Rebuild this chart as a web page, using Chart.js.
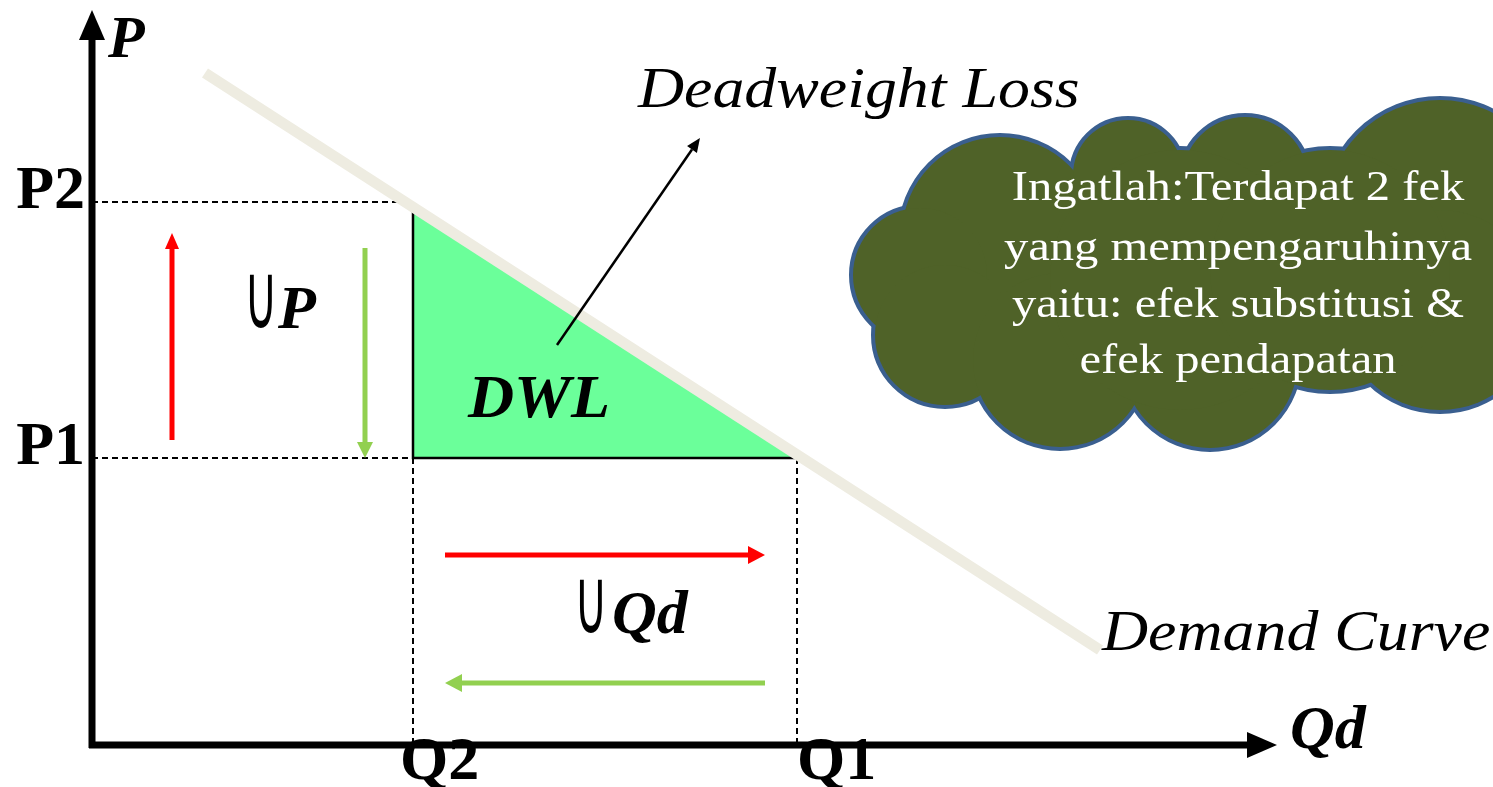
<!DOCTYPE html>
<html>
<head>
<meta charset="utf-8">
<script src="https://cdn.jsdelivr.net/npm/chart.js@4.4.1/dist/chart.umd.min.js"></script>
<style>
  html, body { margin: 0; padding: 0; background: #fff; overflow: hidden; }
  canvas { display: block; }
</style>
</head>
<body>
<canvas id="chart" width="1493" height="787"></canvas>
<script>
// equilibrium values (price / quantity units)
const priceLabels = ["P2", "P1"];
const priceValues = [5.43, 2.87];
const qtyLabels = ["Q2", "Q1"];
const qtyValues = [3.21, 7.05];
const [P2, P1] = priceValues;
const [Q2, Q1] = qtyValues;

// demand curve end points
const demandQ = [1.13, 10.08];
const demandP = [6.72, 0.95];

// axes (shaft ends, arrow head added on top)
const yAxisLine = [{ x: 0, y: -0.03 }, { x: 0, y: 7.05 }];
const xAxisLine = [{ x: -0.03, y: 0 }, { x: 11.55, y: 0 }];

// movement arrows
const priceUp = [{ x: 0.80, y: 3.05 }, { x: 0.80, y: 4.96 }];
const priceDown = [{ x: 2.73, y: 4.97 }, { x: 2.73, y: 3.03 }];
const qtyRight = [{ x: 3.53, y: 1.90 }, { x: 6.56, y: 1.90 }];
const qtyLeft = [{ x: 6.73, y: 0.62 }, { x: 3.70, y: 0.62 }];
const dwlPointer = [{ x: 4.65, y: 4.00 }, { x: 6.00, y: 5.955 }];

// cloud lobes [x, y, r]
const cloudLobes = [
  [9.08, 5.10, 0.98], [10.36, 5.70, 0.55], [11.53, 5.65, 0.63], [13.48, 5.30, 1.15],
  [8.28, 4.70, 0.67], [8.53, 4.10, 0.70], [9.68, 3.85, 0.87], [11.18, 3.85, 0.88],
  [13.48, 4.35, 1.00], [10.88, 4.65, 1.30], [12.38, 4.75, 1.20]
];
const cloudText = ["Ingatlah:Terdapat 2 fek", "yang mempengaruhinya", "yaitu: efek substitusi &", "efek pendapatan"];
const cloudY = [5.45, 4.85, 4.28, 3.72];

const serif = '"Liberation Serif", "Times New Roman", serif';
const texts = [
  { t: "P", x: 0.16, y: 6.88, font: "italic bold 60px " + serif },
  { t: priceLabels[0], x: -0.07, y: P2 - 0.06, font: "bold 62px " + serif, align: "right" },
  { t: priceLabels[1], x: -0.07, y: P1 - 0.06, font: "bold 62px " + serif, align: "right" },
  { t: qtyLabels[0], x: Q2 - 0.13, y: -0.34, font: "bold 62px " + serif },
  { t: qtyLabels[1], x: Q1, y: -0.34, font: "bold 62px " + serif },
  { t: "Qd", x: 11.98, y: -0.03, font: "italic bold 62px " + serif },
  { t: "Deadweight Loss", x: 5.46, y: 6.38, font: "italic 56px " + serif, sx: 1.14 },
  { t: "Demand Curve", x: 10.10, y: 0.95, font: "italic 56px " + serif, sx: 1.14 },
  { t: "DWL", x: 3.76, y: 3.28, font: "italic bold 62px " + serif, sx: 1.03 },
  { t: "\u222A", x: 1.52, y: 4.17, font: "46px 'DejaVu Sans'", sy: 2 },
  { t: "P", x: 1.86, y: 4.17, font: "italic bold 62px " + serif },
  { t: "\u222A", x: 4.82, y: 1.12, font: "46px 'DejaVu Sans'", sy: 2 },
  { t: "Qd", x: 5.20, y: 1.12, font: "italic bold 62px " + serif }
];

function seg(data, color, width, extra) {
  return Object.assign({
    data: data, showLine: true, borderColor: color, backgroundColor: color,
    borderWidth: width, pointRadius: 0, fill: false, borderCapStyle: "butt"
  }, extra || {});
}
const dash = { borderDash: [6, 4] };

const datasets = [
  // dashed guides
  seg([{ x: 0, y: P2 }, { x: Q2, y: P2 }], "#000", 2, Object.assign({ order: 9 }, dash)),
  seg([{ x: 0, y: P1 }, { x: Q2, y: P1 }], "#000", 2, Object.assign({ order: 9 }, dash)),
  seg([{ x: Q2, y: P1 }, { x: Q2, y: 0 }], "#000", 2, Object.assign({ order: 9 }, dash)),
  seg([{ x: Q1, y: P1 }, { x: Q1, y: 0 }], "#000", 2, Object.assign({ order: 9 }, dash)),
  // DWL triangle
  seg([{ x: Q2, y: P2 }, { x: Q1, y: P1 }], "rgba(0,0,0,0)", 0,
      { fill: { value: P1 }, backgroundColor: "#6bff9a", order: 8 }),
  seg([{ x: Q2, y: P2 }, { x: Q2, y: P1 }, { x: Q1, y: P1 }], "#000", 2.5, { order: 7 }),
  // demand curve
  seg([{ x: demandQ[0], y: demandP[0] }, { x: demandQ[1], y: demandP[1] }], "#eeece1", 11, { order: 6 }),
  // axes & arrows
  seg(yAxisLine, "#000", 7, { order: 1, arrow: [30, 13] }),
  seg(xAxisLine, "#000", 7, { order: 1, arrow: [30, 13] }),
  seg(priceUp, "#ff0000", 5, { order: 2, arrow: [16, 7] }),
  seg(priceDown, "#92d050", 5, { order: 2, arrow: [16, 8] }),
  seg(qtyRight, "#ff0000", 5, { order: 2, arrow: [17, 9] }),
  seg(qtyLeft, "#92d050", 5, { order: 2, arrow: [17, 9] }),
  seg(dwlPointer, "#000", 2.5, { order: 2, arrow: [14, 6] })
];

function drawText(ctx, t, px, py, sx, sy) {
  ctx.save();
  ctx.translate(px, py);
  ctx.scale(sx || 1, sy || 1);
  ctx.fillText(t, 0, 0);
  ctx.restore();
}

const annotate = {
  id: "annotate",
  afterDatasetsDraw(chart) {
    const ctx = chart.ctx;
    chart.data.datasets.forEach((ds, i) => {
      if (!ds.arrow) return;
      const pts = chart.getDatasetMeta(i).data;
      const a = pts[pts.length - 2], b = pts[pts.length - 1];
      const ang = Math.atan2(b.y - a.y, b.x - a.x);
      const [len, hw] = ds.arrow;
      ctx.save();
      ctx.translate(b.x, b.y);
      ctx.rotate(ang);
      ctx.fillStyle = ds.borderColor;
      ctx.beginPath();
      ctx.moveTo(len, 0);
      ctx.lineTo(0, -hw);
      ctx.lineTo(0, hw);
      ctx.closePath();
      ctx.fill();
      ctx.restore();
    });
  },
  afterDraw(chart) {
    const ctx = chart.ctx, sx = chart.scales.x, sy = chart.scales.y;
    const unit = sx.getPixelForValue(1) - sx.getPixelForValue(0);
    // cloud: thick outline first, fill over it so only the outer edge shows
    ctx.save();
    ctx.strokeStyle = "#3a5f8f";
    ctx.lineWidth = 8;
    cloudLobes.forEach(([x, y, r]) => {
      ctx.beginPath();
      ctx.arc(sx.getPixelForValue(x), sy.getPixelForValue(y), r * unit, 0, Math.PI * 2);
      ctx.stroke();
    });
    ctx.fillStyle = "#4f6228";
    cloudLobes.forEach(([x, y, r]) => {
      ctx.beginPath();
      ctx.arc(sx.getPixelForValue(x), sy.getPixelForValue(y), r * unit, 0, Math.PI * 2);
      ctx.fill();
    });
    ctx.fillStyle = "#ffffff";
    ctx.font = "43px " + serif;
    ctx.textAlign = "center";
    ctx.textBaseline = "alphabetic";
    cloudText.forEach((line, k) => {
      drawText(ctx, line, sx.getPixelForValue(11.46), sy.getPixelForValue(cloudY[k]), 1.13, 1);
    });
    // labels
    ctx.fillStyle = "#000";
    texts.forEach(o => {
      ctx.font = o.font;
      ctx.textAlign = o.align || "left";
      drawText(ctx, o.t, sx.getPixelForValue(o.x), sy.getPixelForValue(o.y), o.sx, o.sy);
    });
    ctx.restore();
  }
};

new Chart(document.getElementById("chart"), {
  type: "scatter",
  data: { datasets: datasets },
  options: {
    responsive: false,
    animation: false,
    devicePixelRatio: 1,
    layout: { padding: 0 },
    scales: {
      x: { type: "linear", min: -0.92, max: 14.01, display: false },
      y: { type: "linear", min: -0.42, max: 7.45, display: false }
    },
    plugins: { legend: { display: false }, tooltip: { enabled: false } }
  },
  plugins: [annotate]
});
</script>
</body>
</html>
